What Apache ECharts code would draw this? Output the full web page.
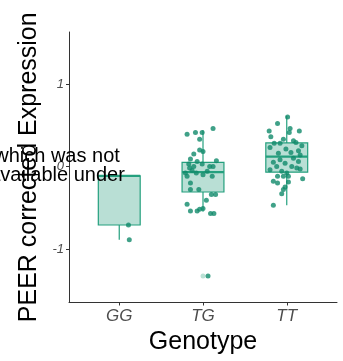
<!DOCTYPE html>
<html><head><meta charset="utf-8">
<script src="https://cdn.jsdelivr.net/npm/echarts@6/dist/echarts.min.js"></script>
<style>html,body{margin:0;padding:0;background:#fff}#c{width:343px;height:361px}</style>
</head><body><div id="c"></div>
<script>
const categories = ['GG', 'TG', 'TT'];
const yTicks = [-1, 0, 1];
const whiskerLow = [-0.89, -0.55, -0.47];
const q1 = [-0.71, -0.31, -0.07];
const median = [-0.115, -0.07, 0.119];
const q3 = [-0.115, 0.05, 0.285];
const whiskerHigh = [-0.115, 0.44, 0.61];
const boxOutliers = [[2, -1.33]];
const ggJitter = [0.11, 0.12];
const ggValues = [-0.71, -0.89];
const tgJitter = [-0.19,-0.09,-0.01,0.12,-0.04,-0.04,0.0,-0.11,-0.15,-0.07,-0.01,0.16,-0.17,-0.11,-0.13,-0.08,-0.19,0.08,0.12,0.11,-0.15,-0.15,-0.05,0.10,0.15,0.04,-0.19,-0.15,-0.07,-0.04,0.0,0.09,0.13,0.06,-0.21,0.0,0.05,-0.16];
const tgValues = [0.39,0.41,0.41,0.46,0.33,0.20,0.18,0.15,0.09,0.06,0.03,0.07,0.03,0.0,-0.05,-0.08,-0.12,0.0,0.0,-0.12,-0.20,-0.28,-0.28,-0.34,-0.34,-0.41,-0.46,-0.54,-0.54,-0.52,-0.51,-0.57,-0.57,-1.33,-0.08,-0.10,-0.06,-0.02];
const ttJitter = [0.01,-0.11,-0.21,0.04,0.15,0.03,-0.19,-0.04,0.08,-0.15,-0.08,0.11,0.18,-0.20,-0.01,0.14,0.05,-0.10,0.16,0.08,-0.08,0.14,-0.16,-0.02,-0.12,0.06,0.12,-0.20,0.16,-0.06,0.0,-0.11,-0.04,0.02,0.19,-0.16,-0.11,0.02,-0.02,-0.04,-0.06,-0.16];
const ttValues = [0.60,0.52,0.43,0.46,0.43,0.41,0.36,0.33,0.31,0.28,0.28,0.29,0.25,0.23,0.21,0.19,0.17,0.16,0.14,0.10,0.08,0.06,0.05,0.04,0.0,0.0,-0.02,-0.04,-0.03,-0.06,-0.08,-0.12,-0.12,-0.12,-0.15,-0.18,-0.20,-0.19,-0.25,-0.28,-0.33,-0.47];

const boxData = categories.map((c, i) => [i + 1, whiskerLow[i], q1[i], median[i], q3[i], whiskerHigh[i]]);
function pts(idx, jit, vals) { return vals.map((v, k) => [idx + jit[k], v]); }
const pointData = [].concat(pts(1, ggJitter, ggValues), pts(2, tgJitter, tgValues), pts(3, ttJitter, ttValues));

const BORDER = '#24a07e', FILL = '#b9dfd5', POINT = '#10896a';
const chart = echarts.init(document.getElementById('c'));
chart.setOption({
  animation: false,
  grid: { left: 69, right: 6, top: 32, bottom: 58.5 },
  xAxis: {
    type: 'value', min: 0.4, max: 3.6,
    name: 'Genotype', nameLocation: 'middle', nameGap: 22,
    nameTextStyle: { fontFamily: 'Liberation Sans', fontSize: 25, color: '#000' },
    axisLine: { show: true, onZero: false, lineStyle: { color: '#333', width: 1 } },
    axisTick: { show: true, length: 3, customValues: [1, 2, 3], lineStyle: { color: '#333' } },
    axisLabel: { customValues: [1, 2, 3], formatter: v => categories[Math.round(v) - 1], margin: 5,
      fontFamily: 'Liberation Sans', fontStyle: 'italic', fontSize: 17, color: '#4d4d4d' },
    splitLine: { show: false }
  },
  yAxis: {
    type: 'value', min: -1.65, max: 1.63,
    name: 'PEER corrected Expression', nameLocation: 'middle', nameGap: 27,
    nameTextStyle: { fontFamily: 'Liberation Sans', fontSize: 25, color: '#000' },
    axisLine: { show: true, onZero: false, lineStyle: { color: '#333', width: 1 } },
    axisTick: { show: true, length: 3, customValues: yTicks, lineStyle: { color: '#333' } },
    axisLabel: { customValues: yTicks, margin: 5, formatter: v => String(v),
      fontFamily: 'Liberation Sans', fontStyle: 'italic', fontSize: 13, color: '#4d4d4d' },
    splitLine: { show: false }
  },
  series: [
    {
      type: 'custom', data: boxData, z: 2,
      renderItem: function (params, api) {
        const x = api.value(0);
        const lo = api.coord([x, api.value(1)]);
        const b1 = api.coord([x, api.value(2)]);
        const md = api.coord([x, api.value(3)]);
        const b3 = api.coord([x, api.value(4)]);
        const hi = api.coord([x, api.value(5)]);
        const w = api.size([0.5, 0])[0];
        const l = lo[0] - w / 2;
        return { type: 'group', children: [
          { type: 'line', shape: { x1: lo[0], y1: hi[1], x2: lo[0], y2: b3[1] }, style: { stroke: BORDER, lineWidth: 1.2 } },
          { type: 'line', shape: { x1: lo[0], y1: b1[1], x2: lo[0], y2: lo[1] }, style: { stroke: BORDER, lineWidth: 1.2 } },
          { type: 'rect', shape: { x: l, y: b3[1], width: w, height: b1[1] - b3[1] }, style: { fill: FILL, stroke: BORDER, lineWidth: 1.2 } },
          { type: 'line', shape: { x1: l, y1: md[1], x2: l + w, y2: md[1] }, style: { stroke: BORDER, lineWidth: 2.2 } }
        ] };
      }
    },
    { type: 'scatter', data: boxOutliers, z: 3, symbolSize: 5, itemStyle: { color: '#a9d9cb' } },
    { type: 'scatter', data: pointData, z: 4, symbolSize: 5, itemStyle: { color: POINT } }
  ],
  graphic: [
    { type: 'text', z: 100, x: 57, y: 147, style: { text: 'which was not\navailable under', fontFamily: 'Liberation Sans', fontSize: 20, fill: '#000', align: 'center', lineHeight: 19 } }
  ]
});
</script></body></html>
